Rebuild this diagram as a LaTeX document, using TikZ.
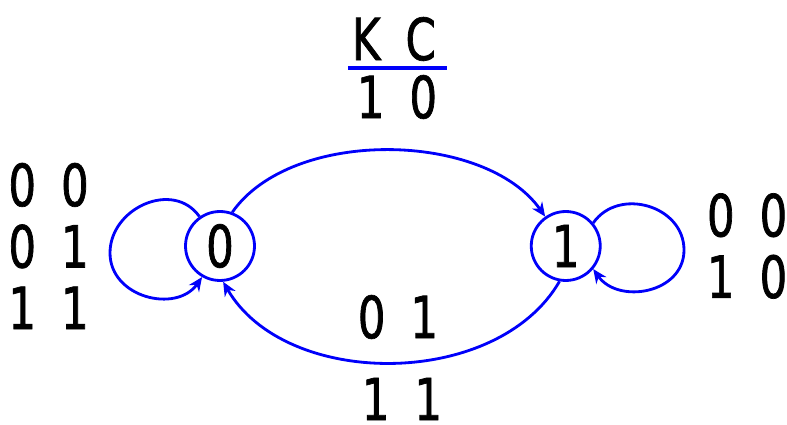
\documentclass[tikz,border=0pt]{standalone}
\usepackage{fontspec}
\usepackage{tikz}
\usetikzlibrary{arrows.meta,positioning}
\newfontfamily\digitfont[FakeStretch=0.75,FakeBold=1.2]{DejaVu Sans}
\definecolor{edgeblue}{RGB}{0,0,250}
\newcommand{\digsep}{\hspace{0.5cm}}
\tikzstyle{statenode}=[circle,draw=edgeblue,line width=1.6pt,minimum size=1.38cm,inner sep=0pt,
                  font=\digitfont\fontsize{33}{35}\selectfont]
\tikzstyle{lbl}=[inner sep=0pt,font=\digitfont\fontsize{33}{35}\selectfont]
\tikzstyle{arrow}=[-{Stealth[length=8pt,width=7pt]},line width=1.6pt,draw=edgeblue]

\begin{document}
\begin{tikzpicture}[x=0.02cm,y=0.02cm]
      \useasboundingbox (0,0) rectangle (787,-425);
      \node[statenode] (s0) at (220,-246) {0};
      \node[statenode,right=5.48cm of s0] (s1) {1};

      \node[lbl,align=left,left=1.9cm of s0] (lblleft) {0\digsep0\\0\digsep1\\1\digsep1};
      \node[lbl,align=left,right=2.1cm of s1] (lblright) {0\digsep0\\1\digsep0};
      \node[lbl] (lblkc) at (394,-39) {K\digsep C};
      \node[lbl] (lblten) at (397,-97) {1\digsep0};
      \node[lbl] (lbltop) at (398,-317) {0\digsep1};
      \node[lbl] (lblbot) at (402,-399) {1\digsep1};

      \draw[edgeblue,line width=2.2pt] (348,-68) -- (447,-68);

      % turning points of the self loops
      \coordinate (lloop) at (110,-253);
      \coordinate (rloop) at (684,-250);

      \draw[arrow] (s0.70) to[out=55,in=125,looseness=0.85] (s1.125);
      \draw[arrow] (s1.-100) to[out=-120,in=-60,looseness=0.95] (s0.-85);
      \draw[arrow] (s0.125) to[out=125,in=90,looseness=1.2] (lloop)
                            to[out=-90,in=-125,looseness=1.2] (s0.240);
      \draw[arrow] (s1.40) to[out=55,in=90,looseness=1.2] (rloop)
                           to[out=-90,in=-55,looseness=1.2] (s1.-40);
    \end{tikzpicture}
\end{document}
